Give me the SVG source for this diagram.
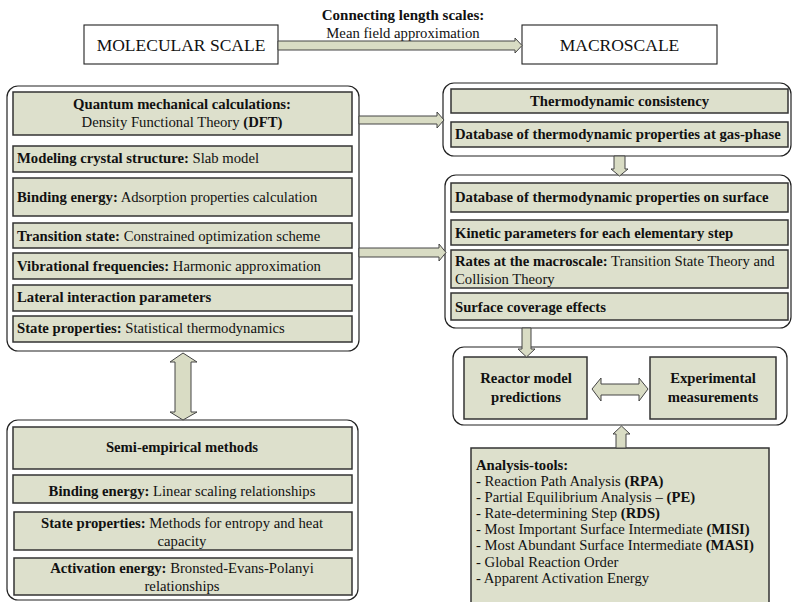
<svg xmlns="http://www.w3.org/2000/svg" width="793" height="602" viewBox="0 0 793 602">
<style>
text{font-family:"Liberation Serif","Times New Roman",serif;font-size:14.7px;fill:#111}
.b{font-weight:bold}
.c{text-anchor:middle}
.big{font-size:17.5px}
.hd{font-size:15px}
.cont{fill:#fff;stroke:#222;stroke-width:1.2}
.box{fill:#dde0cc;stroke:#333;stroke-width:1.5}
.plain{fill:#fff;stroke:#222;stroke-width:1.1}
.arr{fill:#d9dcc4;stroke:#444;stroke-width:1}
</style>
<rect width="793" height="602" fill="#fff"/>

<g id="label-connecting">
<text class="b c hd" x="403" y="20">Connecting length scales:</text>
<text class="c" x="403" y="38">Mean field approximation</text>
</g>

<g id="molecular-scale">
<rect class="plain" x="84" y="25" width="194" height="39"/>
<text class="c big" x="181" y="51">MOLECULAR SCALE</text>
</g>

<g id="macroscale">
<rect class="plain" x="522" y="25" width="195" height="39"/>
<text class="c big" x="619.5" y="51">MACROSCALE</text>
</g>

<g id="quantum-container">
<rect class="cont" x="7" y="86" width="352" height="265" rx="11"/>
<rect class="box" x="13" y="92" width="339" height="43"/>
<text class="b c" x="182" y="109">Quantum mechanical calculations:</text>
<text class="c" x="182" y="127">Density Functional Theory <tspan class="b">(DFT)</tspan></text>
<rect class="box" x="13" y="146" width="339" height="26"/>
<text x="17" y="163"><tspan class="b">Modeling crystal structure:</tspan> Slab model</text>
<rect class="box" x="13" y="178" width="339" height="38"/>
<text x="17" y="202"><tspan class="b">Binding energy:</tspan> Adsorption properties calculation</text>
<rect class="box" x="13" y="223" width="339" height="25"/>
<text x="17" y="241"><tspan class="b">Transition state:</tspan> Constrained optimization scheme</text>
<rect class="box" x="13" y="253" width="339" height="26"/>
<text x="17" y="271"><tspan class="b">Vibrational frequencies:</tspan> Harmonic approximation</text>
<rect class="box" x="13" y="285" width="339" height="26"/>
<text class="b" x="17" y="302">Lateral interaction parameters</text>
<rect class="box" x="13" y="316" width="339" height="26"/>
<text x="17" y="333"><tspan class="b">State properties:</tspan> Statistical thermodynamics</text>
</g>

<g id="semi-empirical-container">
<rect class="cont" x="7" y="420" width="351" height="180" rx="11"/>
<rect class="box" x="13" y="427" width="339" height="42"/>
<text class="b c" x="182" y="452">Semi-empirical methods</text>
<rect class="box" x="13" y="475" width="339" height="28"/>
<text class="c" x="182" y="496"><tspan class="b">Binding energy:</tspan> Linear scaling relationships</text>
<rect class="box" x="14" y="512" width="338" height="38"/>
<text class="c" x="182" y="528"><tspan class="b">State properties:</tspan> Methods for entropy and heat</text>
<text class="c" x="182" y="546">capacity</text>
<rect class="box" x="14" y="558" width="338" height="37"/>
<text class="c" x="182" y="573"><tspan class="b">Activation energy:</tspan> Bronsted-Evans-Polanyi</text>
<text class="c" x="182" y="591">relationships</text>
</g>

<g id="thermo-container">
<rect class="cont" x="443" y="83" width="348" height="73" rx="11"/>
<rect class="box" x="451" y="89" width="337" height="24"/>
<text class="b c" x="619.5" y="106">Thermodynamic consistency</text>
<rect class="box" x="451" y="122" width="337" height="25"/>
<text class="b" x="455" y="139">Database of thermodynamic properties at gas-phase</text>
</g>

<g id="kinetics-container">
<rect class="cont" x="445" y="175" width="346" height="153" rx="11"/>
<rect class="box" x="451" y="183" width="337" height="29"/>
<text class="b" x="455" y="202">Database of thermodynamic properties on surface</text>
<rect class="box" x="451" y="220" width="337" height="25"/>
<text class="b" x="455" y="238">Kinetic parameters for each elementary step</text>
<rect class="box" x="451" y="250" width="337" height="38"/>
<text x="455" y="266"><tspan class="b">Rates at the macroscale:</tspan> Transition State Theory and</text>
<text x="455" y="284">Collision Theory</text>
<rect class="box" x="451" y="293" width="337" height="27"/>
<text class="b" x="455" y="312">Surface coverage effects</text>
</g>

<g id="reactor-container">
<rect class="cont" x="453" y="347" width="334" height="78" rx="11"/>
</g>

<g id="reactor-model">
<rect class="box" x="464" y="357" width="123" height="62"/>
<text class="b c" x="526" y="383">Reactor model</text>
<text class="b c" x="526" y="402">predictions</text>
</g>

<g id="experimental">
<rect class="box" x="650" y="357" width="126" height="62"/>
<text class="b c" x="713" y="383">Experimental</text>
<text class="b c" x="713" y="402">measurements</text>
</g>

<g id="analysis-tools">
<rect class="box" x="471" y="448" width="298" height="160"/>
<text class="b" x="476" y="470">Analysis-tools:</text>
<text x="476" y="486">- Reaction Path Analysis <tspan class="b">(RPA)</tspan></text>
<text x="476" y="502">- Partial Equilibrium Analysis – <tspan class="b">(PE)</tspan></text>
<text x="476" y="518">- Rate-determining Step <tspan class="b">(RDS)</tspan></text>
<text x="476" y="534">- Most Important Surface Intermediate <tspan class="b">(MISI)</tspan></text>
<text x="476" y="550">- Most Abundant Surface Intermediate <tspan class="b">(MASI)</tspan></text>
<text x="476" y="567">- Global Reaction Order</text>
<text x="476" y="583">- Apparent Activation Energy</text>
</g>

<g id="connectors">
<path class="arr" d="M278,41 H515 V38 L522,45.5 L515,53 V50 H278 Z"/>
<path class="arr" d="M359,116 H437 V112 L444,120 L437,128 V124 H359 Z"/>
<path class="arr" d="M359,248 H439 V244 L446,252.5 L439,261 V257 H359 Z"/>
<path class="arr" d="M614,156 V169 H611 L619.5,176 L628,169 H625 V156 Z"/>
<path class="arr" d="M522,328 V349 H518 L526.5,357 L535,349 H531 V328 Z"/>
<path class="arr" d="M592,389 L601,378 V384 H639 V378 L648,389 L639,401 V395 H601 V401 Z"/>
<path class="arr" d="M616,448 V434 H613 L621.5,426 L630,434 H626 V448 Z"/>
<path class="arr" d="M183,353 L197,362 H191 V412 H197 L183,420 L170,412 H175 V362 H170 Z"/>
</g>
</svg>
